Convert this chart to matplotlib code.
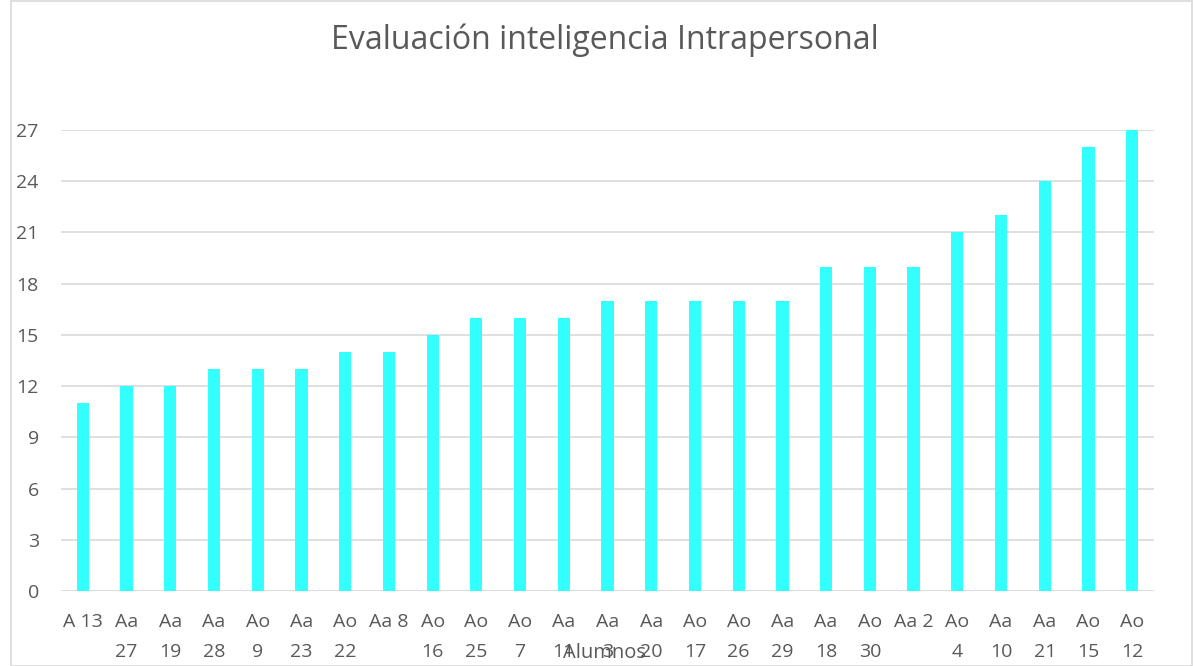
import matplotlib.pyplot as plt

# datos
alumnos = ["A 13", "Aa\n27", "Aa\n19", "Aa\n28", "Ao\n9", "Aa\n23", "Ao\n22", "Aa 8",
           "Ao\n16", "Ao\n25", "Ao\n7", "Aa\n11", "Aa\n3", "Aa\n20", "Ao\n17", "Ao\n26",
           "Aa\n29", "Aa\n18", "Ao\n30", "Aa 2", "Ao\n4", "Aa\n10", "Aa\n21", "Ao\n15", "Ao\n12"]
puntajes = [11, 12, 12, 13, 13, 13, 14, 14, 15, 16, 16, 16, 17, 17, 17, 17, 17,
            19, 19, 19, 21, 22, 24, 26, 27]
yticks = [0, 3, 6, 9, 12, 15, 18, 21, 24, 27]

gris = '#595959'
plt.rcParams['font.family'] = ['Open Sans', 'DejaVu Sans']

fig = plt.figure(figsize=(11.94, 6.66), dpi=100)
ax = fig.add_axes([0.0511, 0.1126, 0.9154, 0.6922])

x = range(len(alumnos))
ax.bar(x, puntajes, width=0.28, color='#33FFFF', zorder=3)

ax.set_xlim(-0.5, len(alumnos) - 0.5)
ax.set_ylim(0, 27)
ax.set_yticks(yticks)
ax.set_xticks(list(x))
ax.set_xticklabels(alumnos, fontsize=14, color=gris, va='top', linespacing=1.85)
ax.tick_params(axis='y', labelsize=14, labelcolor=gris, length=0, pad=16)
ax.tick_params(axis='x', length=0, pad=16)
ax.grid(axis='y', color='#d9d9d9', linewidth=1.2, zorder=0)
for s in ax.spines.values():
    s.set_visible(False)

fig.text(0.5067, 0.004, "Alumnos", ha='center', va='bottom', fontsize=14.5, color=gris)
fig.text(0.5067, 0.94, "Evaluación inteligencia Intrapersonal", ha='center', va='center',
         fontsize=23, color=gris)

# borde del gráfico
fig.patches.append(plt.Rectangle((0.009, 0.0), 0.989, 0.998, transform=fig.transFigure,
                                 fill=False, edgecolor='#d9d9d9', linewidth=1.2))

fig.savefig('out.png', dpi=100)
